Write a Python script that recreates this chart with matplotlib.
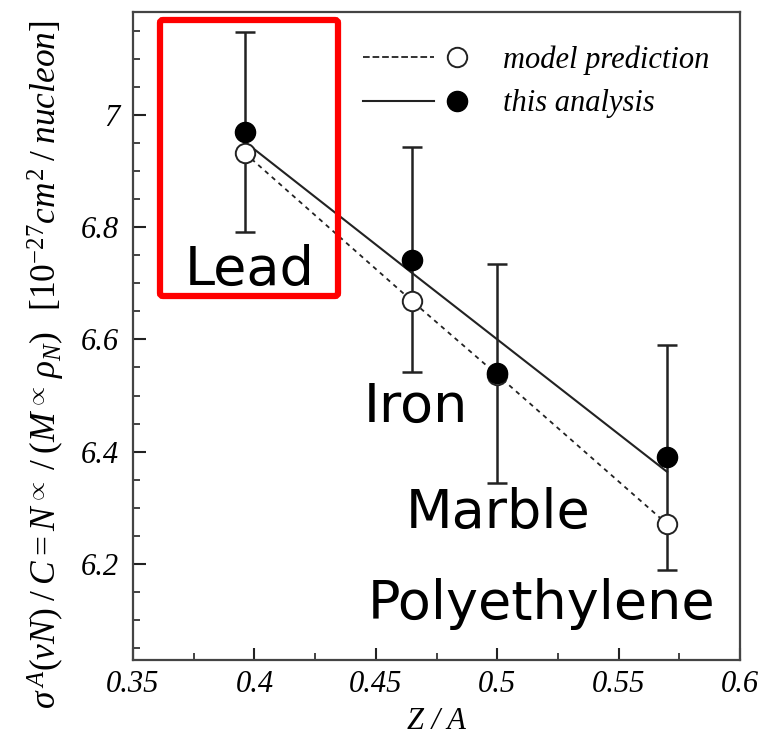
import matplotlib
matplotlib.use("Agg")
import matplotlib.pyplot as plt
from matplotlib.lines import Line2D
from matplotlib.legend_handler import HandlerBase
from matplotlib.patches import FancyBboxPatch
from matplotlib.ticker import MultipleLocator, FormatStrFormatter

plt.rcParams['mathtext.fontset'] = 'custom'
plt.rcParams['mathtext.rm'] = 'Liberation Serif'
plt.rcParams['mathtext.it'] = 'Liberation Serif:italic'
plt.rcParams['mathtext.cal'] = 'Liberation Serif:italic'

# Z/A of the four targets
targets = ['Lead', 'Iron', 'Marble', 'Polyethylene']
z_over_a = [0.396, 0.465, 0.500, 0.570]

# cross section per nucleon
analysis = [6.970, 6.742, 6.540, 6.390]
analysis_err = [0.178, 0.200, 0.195, 0.200]
model = [6.932, 6.668, 6.537, 6.271]
analysis_fit = [6.952, 6.718, 6.600, 6.364]


class LineThenDot(HandlerBase):
    # line sample on the left, marker a bit to the right of it
    def create_artists(self, legend, orig_handle, xdescent, ydescent,
                       width, height, fontsize, trans):
        line, dot = orig_handle
        y = height / 2 - ydescent
        x0 = -xdescent
        l = Line2D([x0, x0 + 0.68 * width], [y, y], linestyle=line.get_linestyle(),
                   color=line.get_color(), linewidth=line.get_linewidth(),
                   transform=trans)
        d = Line2D([x0 + 0.90 * width], [y], linestyle='none', marker='o',
                   markersize=dot.get_markersize(), markerfacecolor=dot.get_markerfacecolor(),
                   markeredgecolor=dot.get_markeredgecolor(),
                   markeredgewidth=dot.get_markeredgewidth(), transform=trans)
        return [l, d]


W, H = 764, 741
fig = plt.figure(figsize=(W / 100, H / 100), dpi=100)
ax = fig.add_axes([133 / W, 1 - 660 / H, 607 / W, 648 / H])

ax.plot(z_over_a, model, ls=(0, (2.5, 2.5)), color='#222222', lw=1.3, zorder=2)
ax.plot(z_over_a, analysis_fit, ls='-', color='#222222', lw=1.5, zorder=2)
ax.errorbar(z_over_a, analysis, yerr=analysis_err, fmt='none', ecolor='#222222',
            elinewidth=1.8, capsize=7.5, capthick=1.8, zorder=3)
ax.plot(z_over_a, model, 'o', ls='none', mfc='white', mec='#222222', mew=1.4,
        ms=14, zorder=4)
ax.plot(z_over_a, analysis, 'o', ls='none', color='black', ms=14.5, zorder=5)

ax.set_xlim(0.35, 0.6)
ax.set_ylim(6.029, 7.183)
ax.xaxis.set_major_locator(MultipleLocator(0.05))
ax.xaxis.set_minor_locator(MultipleLocator(0.025))
ax.yaxis.set_major_locator(MultipleLocator(0.2))
ax.yaxis.set_minor_locator(MultipleLocator(0.05))
ax.xaxis.set_major_formatter(FormatStrFormatter('%g'))
ax.yaxis.set_major_formatter(FormatStrFormatter('%g'))
ax.tick_params(which='both', direction='in', top=False, right=False, color='#222222')
ax.tick_params(which='major', length=9, width=1.5, pad=10)
ax.tick_params(axis='x', which='major', pad=7)
ax.tick_params(which='minor', length=5, width=1.2)
for lab in ax.get_xticklabels() + ax.get_yticklabels():
    lab.set_fontfamily('Liberation Serif')
    lab.set_fontstyle('italic')
    lab.set_fontsize(22)
for sp in ax.spines.values():
    sp.set_color('#444444')
    sp.set_linewidth(1.6)

ax.set_xlabel('Z / A', fontfamily='Liberation Serif', fontstyle='italic',
              fontsize=22, labelpad=6)
ax.set_ylabel(r'$\sigma^{\,A}(\nu N)\;/\;C = N^{\propto}\;/\;(M^{\propto}\,\rho_N)\;\;\;[10^{-27}cm^{2}\;/\;nucleon]$',
              fontsize=25.5)
ax.yaxis.set_label_coords(-0.108, 0.455)

h_model = (Line2D([], [], ls=(0, (2.5, 2.5)), color='#222222', lw=1.3),
           Line2D([], [], marker='o', ls='none', mfc='white', mec='#222222', mew=1.4, ms=14))
h_anal = (Line2D([], [], ls='-', color='#222222', lw=1.5),
          Line2D([], [], marker='o', ls='none', mfc='black', mec='black', mew=1.0, ms=14.5))
leg = ax.legend([h_model, h_anal], ['model prediction', 'this analysis'],
                handler_map={tuple: LineThenDot()},
                handlelength=3.43, handletextpad=1.15, labelspacing=0.48,
                borderpad=0, borderaxespad=0,
                frameon=False, loc='upper left', bbox_to_anchor=(0.379, 0.949),
                prop={'family': 'Liberation Serif', 'style': 'italic', 'size': 22})

# red highlight box and target names drawn over the figure
box = FancyBboxPatch((160 / W, 1 - 296 / H), 178 / W, 276 / H,
                     boxstyle='round,pad=0,rounding_size=0.004',
                     transform=fig.transFigure, fill=False, ec='#ff0000', lw=4.5, zorder=10)
fig.patches.append(box)
label_pos = [(250, 285), (416, 422), (498, 528), (542, 619)]
for name, (px, py) in zip(targets, label_pos):
    fig.text(px / W, 1 - py / H, name, ha='center', va='baseline', fontsize=39,
             fontfamily='DejaVu Sans', color='black', zorder=11)

fig.savefig('out.png', dpi=100)
